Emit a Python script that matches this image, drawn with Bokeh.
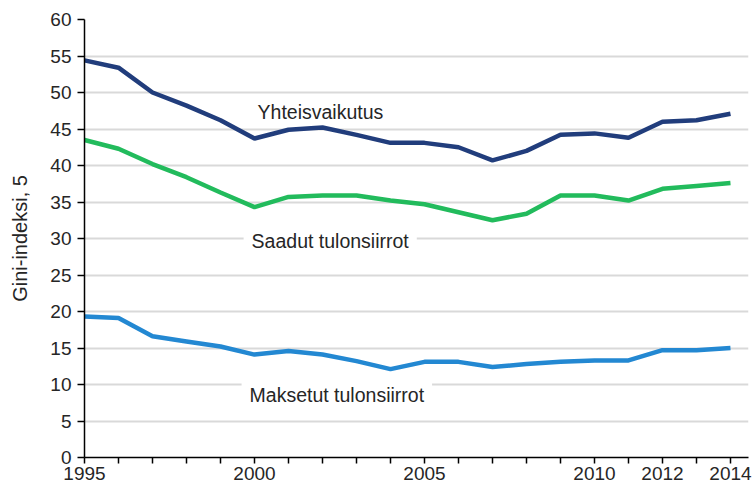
from bokeh.plotting import figure
from bokeh.models import Range1d, FixedTicker, Label
from bokeh.embed import file_html
from bokeh.resources import INLINE

years = list(range(1995, 2015))
yhteisvaikutus = [54.4, 53.4, 50.0, 48.2, 46.2, 43.7, 44.9, 45.2, 44.2, 43.1,
                  43.1, 42.5, 40.7, 42.0, 44.2, 44.4, 43.8, 46.0, 46.2, 47.1]
saadut = [43.5, 42.3, 40.2, 38.4, 36.3, 34.3, 35.7, 35.9, 35.9, 35.2,
          34.7, 33.6, 32.5, 33.4, 35.9, 35.9, 35.2, 36.8, 37.2, 37.6]
maksetut = [19.3, 19.1, 16.6, 15.9, 15.2, 14.1, 14.6, 14.1, 13.2, 12.1,
            13.1, 13.1, 12.4, 12.8, 13.1, 13.3, 13.3, 14.7, 14.7, 15.0]
labeled_years = [1995, 2000, 2005, 2010, 2012, 2014]
y_ticks = [0, 5, 10, 15, 20, 25, 30, 35, 40, 45, 50, 55, 60]
series_names = ["Yhteisvaikutus", "Saadut tulonsiirrot", "Maksetut tulonsiirrot"]
y_title = "Gini-indeksi, 5"

FONT = "Liberation Sans"
TXT = "#262626"

p = figure(width=752, height=486, output_backend="svg", toolbar_location=None,
           x_range=Range1d(1995, 2014.53), y_range=Range1d(0, 60),
           min_border_left=84, min_border_right=4, min_border_top=19,
           min_border_bottom=29)
p.outline_line_color = None
p.background_fill_color = "white"
p.border_fill_color = "white"

p.line(years, yhteisvaikutus, line_color="#213D7C", line_width=4.5)
p.line(years, saadut, line_color="#22BB5C", line_width=4.5)
p.line(years, maksetut, line_color="#2388D2", line_width=4.5)

# axes
p.xaxis.ticker = FixedTicker(ticks=years)
p.xaxis.major_label_overrides = {yr: (str(yr) if yr in labeled_years else "") for yr in years}
p.yaxis.ticker = FixedTicker(ticks=y_ticks)
for ax in (p.xaxis[0], p.yaxis[0]):
    ax.axis_line_color = "black"
    ax.axis_line_width = 1.5
    ax.major_tick_line_color = "black"
    ax.major_tick_line_width = 1.5
    ax.major_tick_in = 0
    ax.minor_tick_line_color = None
    ax.major_label_text_font = FONT
    ax.major_label_text_font_size = "19px"
    ax.major_label_text_color = TXT
p.xaxis.major_tick_out = 6
p.yaxis.major_tick_out = 7
p.xaxis.major_label_standoff = 3
p.yaxis.major_label_standoff = 6
p.yaxis.axis_label = y_title
p.yaxis.axis_label_text_font = FONT
p.yaxis.axis_label_text_font_style = "normal"
p.yaxis.axis_label_text_font_size = "20px"
p.yaxis.axis_label_text_color = TXT
p.yaxis.axis_label_standoff = 16

p.xgrid.grid_line_color = None
p.ygrid.grid_line_color = "#D9D9D9"
p.ygrid.grid_line_width = 2

# series labels
def add_label(x, y, text, bg):
    lab = Label(x=x, y=y, text=text, text_font=FONT, text_font_size="19.5px",
                text_color=TXT, text_baseline="middle", text_align="left")
    if bg:
        lab.background_fill_color = "white"
        lab.padding = 8
    p.add_layout(lab)

add_label(2000.09, 47.3, series_names[0], False)
add_label(1999.68, 29.7, series_names[1], True)
add_label(1999.62, 8.5, series_names[2], True)

open("out.html", "w").write(file_html(p, INLINE))
